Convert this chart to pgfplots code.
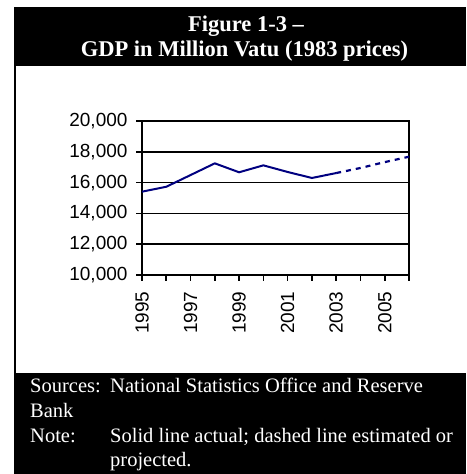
\documentclass[border=0pt]{standalone}
\usepackage{fontspec}
\setmainfont{Liberation Serif}
\newfontfamily\arialf{Liberation Sans}
\usepackage{pgfplots}
\pgfplotsset{compat=1.18}
\definecolor{navyline}{RGB}{0,0,128}
\begin{document}
\begin{tikzpicture}[x=1pt,y=1pt]
\path[use as bounding box, fill=white] (0,0) rectangle (466,474);
% title box
\fill[black] (14,408) rectangle (466,467);
\node[text=white, anchor=base, inner sep=0pt, font=\fontsize{22.5}{25}\selectfont\bfseries] at (246,442) {Figure 1-3 --};
\node[text=white, anchor=base, inner sep=0pt, font=\fontsize{22.5}{25}\selectfont\bfseries] at (244.5,417) {GDP in Million Vatu (1983 prices)};
% left border line
\draw[black, line width=2pt] (15,101) -- (15,408);
% footer box
\fill[black] (14,0) rectangle (466,101);
\begin{scope}[every node/.style={text=white, anchor=base west, inner sep=0pt, font=\fontsize{20.5}{24}\selectfont}]
\node at (30,81) {Sources:};
\node at (110,81) {National Statistics Office and Reserve};
\node at (30,56) {Bank};
\node at (30,31) {Note:};
\node at (110,31) {Solid line actual; dashed line estimated or};
\node at (110,8) {projected.};
\end{scope}
\begin{axis}[
  at={(142pt,199pt)}, anchor=south west,
  scale only axis, width=267pt, height=154pt,
  xmin=1995, xmax=2006, ymin=10000, ymax=20000,
  ytick={10000,12000,...,20000},
  xtick={1995,1997,...,2005},
  minor xtick={1996,1998,...,2006},
  scaled ticks=false,
  tick pos=left,
  tick align=outside,
  major tick length=6pt, minor tick length=6pt,
  tick style={black, line width=1.6pt},
  axis line style={black, line width=2pt},
  ymajorgrids, major grid style={black, line width=1.6pt},
  /pgf/number format/assume math mode=true,
  ticklabel style={font=\arialf\fontsize{19}{22}\selectfont},
  xticklabel shift=7pt,
  yticklabel shift=5pt,
  x tick label style={rotate=90, anchor=east, /pgf/number format/1000 sep={}},
  y tick label style={/pgf/number format/1000 sep={,}},
]
\addplot[navyline, line width=2pt] coordinates {
 (1995,15410) (1996,15730) (1997,16490) (1998,17250) (1999,16670)
 (2000,17120) (2001,16690) (2002,16300) (2003,16620)
};
\addplot[navyline, line width=2.2pt, dash pattern=on 5pt off 5pt] coordinates {
 (2003,16620) (2004,16950) (2005,17330) (2006,17680)
};
\end{axis}
\end{tikzpicture}
\end{document}
